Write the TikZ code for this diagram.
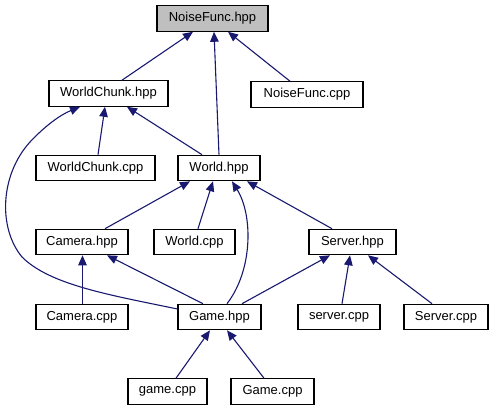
\documentclass[tikz,border=0pt]{standalone}
\usepackage{fontspec}
\setmainfont{Liberation Sans}
\usetikzlibrary{arrows.meta}
\definecolor{edgecol}{HTML}{191970}
\definecolor{hilite}{HTML}{BFBFBF}
\begin{document}
\begin{tikzpicture}[x=1pt,y=-1pt,
  box/.style={draw=black,line width=1.1pt,fill=white,minimum height=25.5pt,inner sep=0pt,font=\fontsize{13}{15}\selectfont},
  edge/.style={draw=edgecol,line width=1.1pt,-{Triangle[length=10pt,width=8.5pt]}}]
\useasboundingbox (0,0) rectangle (496,411);
\node[box,fill=hilite,minimum width=111pt] (NFh) at (212.5,18.5) {NoiseFunc.hpp};
\node[box,minimum width=119pt] (WCh) at (108.5,93.5) {WorldChunk.hpp};
\node[box,minimum width=112pt] (NFc) at (307,94.5) {NoiseFunc.cpp};
\node[box,minimum width=119pt] (WCc) at (95.5,168) {WorldChunk.cpp};
\node[box,minimum width=82pt] (Wh) at (219,168) {World.hpp};
\node[box,minimum width=92pt] (Camh) at (82,242) {Camera.hpp};
\node[box,minimum width=81pt] (Wc) at (194.5,242) {World.cpp};
\node[box,minimum width=87pt] (Sh) at (352.5,242) {Server.hpp};
\node[box,minimum width=92pt] (Camc) at (82,317) {Camera.cpp};
\node[box,minimum width=83pt] (Gh) at (219.5,317) {Game.hpp};
\node[box,minimum width=82pt] (sc) at (339,317) {server.cpp};
\node[box,minimum width=84pt] (Sc) at (446,317) {Server.cpp};
\node[box,minimum width=79pt] (gc) at (167.5,391.5) {game.cpp};
\node[box,minimum width=83pt] (Gc) at (272.5,391.5) {Game.cpp};

\draw[edge] ([xshift=13.5pt]WCh.north) -- ([xshift=-19.5pt]NFh.south);
\draw[edge] (Wh.north) -- ([xshift=1.5pt]NFh.south);
\draw[edge] ([xshift=-17pt]NFc.north) -- ([xshift=15.5pt]NFh.south);
\draw[edge] ([xshift=2.5pt]WCc.north) -- ([xshift=-3.5pt]WCh.south);
\draw[edge] ([xshift=-17pt]Wh.north) -- ([xshift=18.5pt]WCh.south);
\draw[edge] ([yshift=8pt]Gh.west) .. controls (110,295) and (50,285) .. (22,257)
  .. controls (-2,228) and (0,175) .. (30,142)
  .. controls (45,126) and (60,115) .. ([xshift=-28.5pt]WCh.south);
\draw[edge] ([xshift=23pt]Camh.north) -- ([xshift=-29pt]Wh.south);
\draw[edge] ([xshift=3.5pt]Wc.north) -- ([xshift=-6pt]Wh.south);
\draw[edge] ([xshift=7.5pt]Gh.north) .. controls (253,270) and (253,215) .. ([xshift=13pt]Wh.south);
\draw[edge] ([xshift=-20.5pt]Sh.north) -- ([xshift=28pt]Wh.south);
\draw[edge] ([xshift=0.5pt]Camc.north) -- ([xshift=0.5pt]Camh.south);
\draw[edge] ([xshift=-16.5pt]Gh.north) -- ([xshift=25pt]Camh.south);
\draw[edge] ([xshift=22.5pt]Gh.north) -- ([xshift=-22.5pt]Sh.south);
\draw[edge] ([xshift=3pt]sc.north) -- ([xshift=-2.5pt]Sh.south);
\draw[edge] ([xshift=-14pt]Sc.north) -- ([xshift=15.5pt]Sh.south);
\draw[edge] ([xshift=8.5pt]gc.north) -- ([xshift=-9.5pt]Gh.south);
\draw[edge] ([xshift=-8.5pt]Gc.north) -- ([xshift=7.5pt]Gh.south);
\end{tikzpicture}
\end{document}
